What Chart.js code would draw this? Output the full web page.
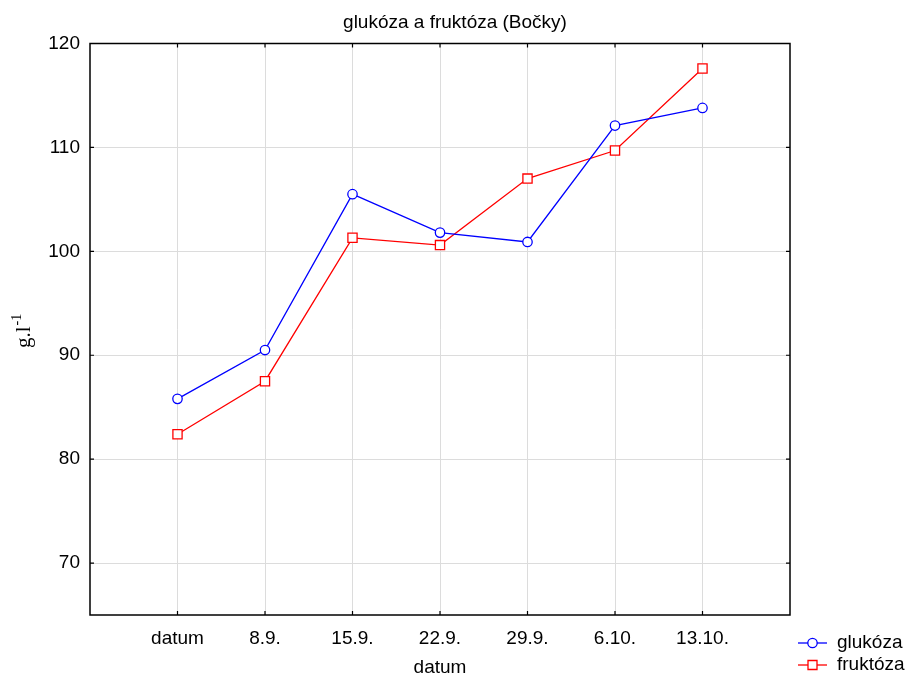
<!DOCTYPE html>
<html>
<head>
<meta charset="utf-8">
<title>glukóza a fruktóza (Bočky)</title>
<script src="https://cdn.jsdelivr.net/npm/chart.js@4"></script>
<style>
  html, body { margin: 0; padding: 0; background: #fff; }
  canvas { display: block; }
</style>
</head>
<body>
<canvas id="graf" width="908" height="676"></canvas>
<script>
// popisky osy x (termíny odběru)
const terminy = ["datum", "8.9.", "15.9.", "22.9.", "29.9.", "6.10.", "13.10."];
// hodnoty v g.l-1
const glukoza = [85.8, 90.5, 105.5, 101.8, 100.9, 112.1, 113.8];
const fruktoza = [82.4, 87.5, 101.3, 100.6, 107.0, 109.7, 117.6];
// ticky osy y
const yTicky = [70, 80, 90, 100, 110, 120];

const PISMO = "'Liberation Sans', Arial, sans-serif";
const MODRA = "#0000ff";
const CERVENA = "#ff0000";

function body(hodnoty) {
  return hodnoty.map(function (v, i) { return { x: i, y: v }; });
}

// rámeček, ticky dovnitř, titulky a legenda
const popisky = {
  id: "popisky",
  afterDraw: function (chart) {
    const ctx = chart.ctx;
    const a = chart.chartArea;
    const sx = chart.scales.x;
    const sy = chart.scales.y;

    ctx.save();
    ctx.strokeStyle = "#000";
    ctx.lineWidth = 1.5;
    ctx.strokeRect(a.left, a.top, a.right - a.left, a.bottom - a.top);

    ctx.lineWidth = 1.2;
    ctx.beginPath();
    terminy.forEach(function (t, i) {
      const x = sx.getPixelForValue(i);
      ctx.moveTo(x, a.bottom); ctx.lineTo(x, a.bottom - 4);
      ctx.moveTo(x, a.top); ctx.lineTo(x, a.top + 4);
    });
    yTicky.forEach(function (v) {
      const y = sy.getPixelForValue(v);
      ctx.moveTo(a.left, y); ctx.lineTo(a.left + 4, y);
      ctx.moveTo(a.right, y); ctx.lineTo(a.right - 4, y);
    });
    ctx.stroke();

    // nadpis
    ctx.fillStyle = "#000";
    ctx.font = "19px " + PISMO;
    ctx.textAlign = "center";
    ctx.textBaseline = "alphabetic";
    ctx.fillText("glukóza a fruktóza (Bočky)", 455, 28);

    // titulek osy x
    ctx.fillText("datum", (a.left + a.right) / 2, 673);

    // titulek osy y: g.l-1 s horním indexem
    ctx.save();
    ctx.translate(30, 348);
    ctx.rotate(-Math.PI / 2);
    ctx.textAlign = "left";
    ctx.font = "21px 'Liberation Serif', 'Times New Roman', serif";
    ctx.fillText("g.l", 0, 0);
    const w = ctx.measureText("g.l").width;
    ctx.font = "14px 'Liberation Serif', 'Times New Roman', serif";
    ctx.fillText("-1", w + 1, -9);
    ctx.restore();

    // legenda
    const polozky = [
      { text: "glukóza", barva: MODRA, tvar: "circle", y: 643 },
      { text: "fruktóza", barva: CERVENA, tvar: "rect", y: 665 }
    ];
    ctx.font = "19px " + PISMO;
    ctx.textAlign = "left";
    ctx.textBaseline = "middle";
    polozky.forEach(function (p) {
      ctx.strokeStyle = p.barva;
      ctx.lineWidth = 1.3;
      ctx.beginPath();
      ctx.moveTo(798, p.y); ctx.lineTo(827, p.y);
      ctx.stroke();
      ctx.fillStyle = "#fff";
      ctx.beginPath();
      if (p.tvar === "circle") {
        ctx.arc(812.5, p.y, 4.7, 0, Math.PI * 2);
      } else {
        ctx.rect(808, p.y - 4.5, 9, 9);
      }
      ctx.fill();
      ctx.stroke();
      ctx.fillStyle = "#000";
      ctx.fillText(p.text, 837, p.y);
    });
    ctx.restore();
  }
};

new Chart(document.getElementById("graf"), {
  type: "line",
  data: {
    datasets: [
      {
        label: "glukóza",
        data: body(glukoza),
        borderColor: MODRA,
        backgroundColor: "#fff",
        borderWidth: 1.3,
        pointStyle: "circle",
        pointRadius: 4.7,
        pointBorderWidth: 1.3,
        tension: 0
      },
      {
        label: "fruktóza",
        data: body(fruktoza),
        borderColor: CERVENA,
        backgroundColor: "#fff",
        borderWidth: 1.3,
        pointStyle: "rect",
        pointRadius: 6.5,
        pointBorderWidth: 1.3,
        tension: 0
      }
    ]
  },
  options: {
    responsive: false,
    animation: false,
    events: [],
    layout: { padding: { top: 43.5, right: 118, left: 0, bottom: 0 } },
    plugins: {
      legend: { display: false },
      title: { display: false },
      tooltip: { enabled: false }
    },
    scales: {
      x: {
        type: "linear",
        min: -1,
        max: 7,
        afterBuildTicks: function (scale) {
          scale.ticks = terminy.map(function (t, i) { return { value: i }; });
        },
        afterFit: function (scale) { scale.height = 61; },
        border: { display: false },
        grid: { color: "#dcdcdc", lineWidth: 1, drawTicks: false },
        ticks: {
          padding: 12,
          color: "#000",
          font: { family: PISMO, size: 19 },
          maxRotation: 0,
          autoSkip: false,
          callback: function (v) { return terminy[v] !== undefined ? terminy[v] : ""; }
        }
      },
      y: {
        min: 65,
        max: 120,
        afterBuildTicks: function (scale) {
          scale.ticks = yTicky.map(function (v) { return { value: v }; });
        },
        afterFit: function (scale) { scale.width = 90; },
        border: { display: false },
        grid: { color: "#dcdcdc", lineWidth: 1, drawTicks: false },
        ticks: {
          padding: 10,
          color: "#000",
          font: { family: PISMO, size: 19 }
        }
      }
    }
  },
  plugins: [popisky]
});
</script>
</body>
</html>
